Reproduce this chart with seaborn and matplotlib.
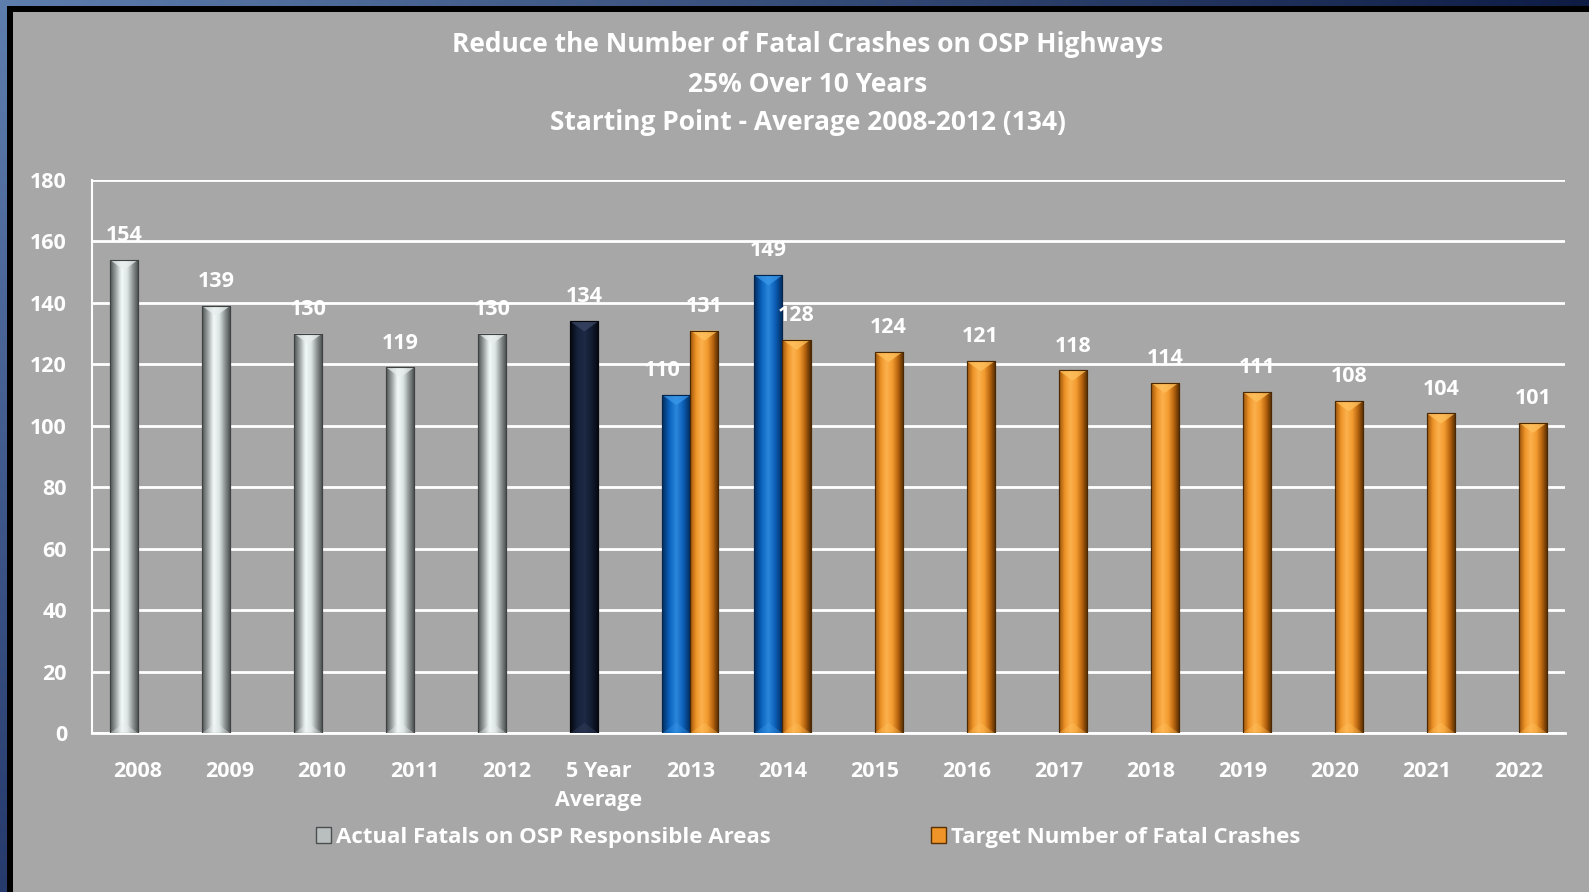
import numpy as np
import pandas as pd
import matplotlib
matplotlib.use('Agg')
import matplotlib.pyplot as plt
import seaborn as sns
from matplotlib.colors import LinearSegmentedColormap
from matplotlib.patches import Patch, Polygon

# data
categories = ['2008', '2009', '2010', '2011', '2012', '5 Year\nAverage',
              '2013', '2014', '2015', '2016', '2017', '2018', '2019',
              '2020', '2021', '2022']
actual_cats = categories[:8]
actual_values = [154, 139, 130, 119, 130, 134, 110, 149]
actual_kind = ['silver'] * 5 + ['navy'] + ['blue'] * 2
target_cats = categories[6:]
target_values = [131, 128, 124, 121, 118, 114, 111, 108, 104, 101]

actual_label = 'Actual Fatals on OSP Responsible Areas'
target_label = 'Target Number of Fatal Crashes'
title_lines = ['Reduce the Number of Fatal Crashes on OSP Highways',
               '25% Over 10 Years',
               'Starting Point - Average 2008-2012 (134)']

GRAY = '#a7a7a7'

# cylinder-like shading for each colour
shades = {
    'silver': (['#4e5253', '#9ea4a4', '#f3f9f9', '#dde4e4', '#8d9393', '#444848'],
               '#e8eeee', '#3e4242'),
    'navy': (['#05080f', '#16213a', '#1e2a46', '#121b30', '#05080f'],
             '#3b4866', '#05070c'),
    'blue': (['#042c5c', '#0a62bc', '#2a88dc', '#0a5cb4', '#042a58'],
             '#3a98ea', '#03264e'),
    'orange': (['#9a5208', '#ee9428', '#fcb24e', '#f39c30', '#b8650e', '#4e2904'],
               '#ffc25e', '#4a2804'),
}
cmaps = {k: LinearSegmentedColormap.from_list(k, v[0]) for k, v in shades.items()}

df = pd.concat([
    pd.DataFrame({'category': actual_cats, 'value': actual_values, 'series': actual_label}),
    pd.DataFrame({'category': target_cats, 'value': target_values, 'series': target_label}),
], ignore_index=True)

sns.set_theme(style='whitegrid', rc={
    'axes.facecolor': GRAY, 'figure.facecolor': GRAY,
    'grid.color': 'white', 'grid.linewidth': 2.0,
    'axes.edgecolor': 'white',
})
plt.rcParams['font.family'] = ['Open Sans', 'DejaVu Sans']
plt.rcParams['font.weight'] = 'bold'

fig = plt.figure(figsize=(15.89, 8.92), dpi=100)

# background with the dark frame at top and left
H, W = 892, 1589
img = np.ones((H, W, 3)) * (0xa7 / 255)
tx = np.linspace(0, 1, W)[:, None]
top = tx * np.array([0x0e, 0x1c, 0x44]) + (1 - tx) * np.array([0x5e, 0x7e, 0xae])
img[0:6, :, :] = (top / 255)[None, :, :]
ly = np.linspace(0, 1, H)[:, None]
left = ly * np.array([0x26, 0x3a, 0x6c]) + (1 - ly) * np.array([0x5e, 0x7e, 0xae])
img[:, 0:7, :] = (left / 255)[:, None, :]
img[6:12, 7:, :] = 0
img[6:, 7:13, :] = 0
bg = fig.add_axes([0, 0, 1, 1], zorder=-5)
bg.imshow(img, aspect='auto', interpolation='nearest')
bg.axis('off')

ax = fig.add_axes([92 / W, 1 - 733 / H, (1565 - 92) / W, (733 - 180) / H])
sns.barplot(data=df, x='category', y='value', hue='series', order=categories,
            hue_order=[actual_label, target_label], width=0.61, dodge=True,
            saturation=1, legend=False, ax=ax, zorder=3)

ax.set_ylim(0, 180)
ax.set_xlim(-0.5, len(categories) - 0.5)
ax.set_yticks(range(0, 181, 20))
ax.set_xlabel('')
ax.set_ylabel('')
ax.grid(axis='x', visible=False)
ax.set_axisbelow(True)
for s in ['top', 'right']:
    ax.spines[s].set_visible(False)
ax.spines['left'].set_linewidth(1.5)
ax.spines['bottom'].set_linewidth(2)

ax.set_xticks(np.arange(-0.5, len(categories), 1), minor=True)
ax.tick_params(axis='x', which='major', length=0, pad=20, labelsize=15.5, labelcolor='white')
ax.tick_params(axis='x', which='minor', length=8, width=1.5, color='white', direction='out')
ax.tick_params(axis='y', length=8, width=1.5, color='white', direction='out', pad=10,
               labelsize=15.5, labelcolor='white')
for lab in ax.get_xticklabels() + ax.get_yticklabels():
    lab.set_fontweight('bold')
for lab in ax.get_xticklabels():
    lab.set_linespacing(1.5)
    lab.set_verticalalignment('top')

# colour and shade every bar
actual_lookup = dict(zip(actual_cats, actual_kind))
for patch in list(ax.patches):
    w, h = patch.get_width(), patch.get_height()
    if not np.isfinite(h) or h <= 0:
        continue
    x0 = patch.get_x()
    cx = x0 + w / 2
    idx = int(round(cx))
    kind = actual_lookup[categories[idx]] if cx < idx else 'orange'
    stops, light, dark = shades[kind]
    patch.set_facecolor(stops[1])
    patch.set_edgecolor(dark)
    patch.set_linewidth(0.8)
    im = ax.imshow(np.linspace(0, 1, 64).reshape(1, -1), cmap=cmaps[kind],
                   extent=(x0, x0 + w, 0, h), aspect='auto', zorder=3.5,
                   interpolation='bicubic')
    im.set_clip_path(patch)
    dh = 3.3
    ax.add_patch(Polygon([(x0, h), (x0 + w, h), (cx, h - dh)], closed=True,
                         facecolor=light, edgecolor='none', alpha=0.75, zorder=3.6))
    ax.add_patch(Polygon([(x0, 0), (x0 + w, 0), (cx, dh)], closed=True,
                         facecolor=light, edgecolor='none', alpha=0.35, zorder=3.6))
    ax.add_patch(plt.Rectangle((x0, 0), w, h, facecolor='none', edgecolor=dark,
                               linewidth=0.8, zorder=3.7))

ax.set_xlim(-0.5, len(categories) - 0.5)
ax.set_ylim(0, 180)

for cont in ax.containers:
    ax.bar_label(cont, fmt='%d', padding=10, color='white', fontsize=15.5,
                 fontweight='bold', zorder=5)

# the 2013 actual label sits left of its bar, as in the original
for t in ax.texts:
    if t.get_text() == '110':
        t.set_ha('right')
        x, y = t.xy
        t.xy = (x + 0.05, y)

# title
title_y = [45, 84, 123]
for line, yy in zip(title_lines, title_y):
    fig.text(808 / W, 1 - yy / H, line, ha='center', va='center', color='white',
             fontsize=19, fontweight='bold')

handles = [Patch(facecolor='#b9bfbf', edgecolor='#4a4e4e', label=actual_label),
           Patch(facecolor='#ee9428', edgecolor='#5a3004', label=target_label)]
leg = fig.legend(handles=handles, loc='center', bbox_to_anchor=(808 / W, 1 - 837 / H),
                 ncol=2, frameon=False, fontsize=16, columnspacing=7.2,
                 handlelength=0.7, handleheight=0.7, handletextpad=0.2)
for t in leg.get_texts():
    t.set_color('white')
    t.set_fontweight('bold')

fig.savefig('out.png', dpi=100, facecolor=GRAY)
